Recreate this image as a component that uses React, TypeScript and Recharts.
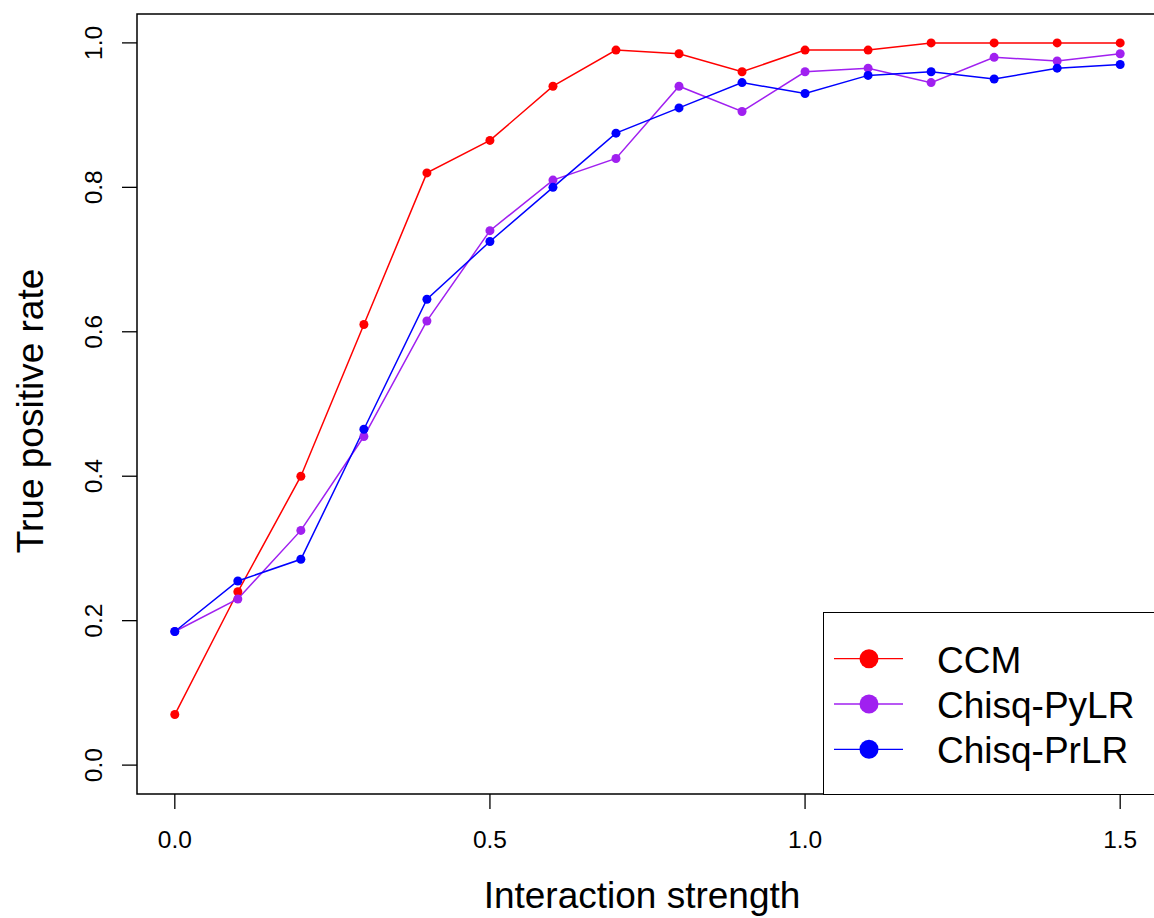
import { LineChart, Line, XAxis, YAxis, Legend, ReferenceArea, Label } from "recharts";

// interaction strength (x) and true positive rates per method
const strength = [0, 0.1, 0.2, 0.3, 0.4, 0.5, 0.6, 0.7, 0.8, 0.9, 1.0, 1.1, 1.2, 1.3, 1.4, 1.5];
const ccm = [0.07, 0.24, 0.4, 0.61, 0.82, 0.865, 0.94, 0.99, 0.985, 0.96, 0.99, 0.99, 1.0, 1.0, 1.0, 1.0];
const pylr = [0.185, 0.23, 0.325, 0.455, 0.615, 0.74, 0.81, 0.84, 0.94, 0.905, 0.96, 0.965, 0.945, 0.98, 0.975, 0.985];
const prlr = [0.185, 0.255, 0.285, 0.465, 0.645, 0.725, 0.8, 0.875, 0.91, 0.945, 0.93, 0.955, 0.96, 0.95, 0.965, 0.97];

const xTicks = [0, 0.5, 1.0, 1.5];
const yTicks = [0, 0.2, 0.4, 0.6, 0.8, 1.0];

const series = [
  { key: "ccm", name: "CCM", color: "#ff0000" },
  { key: "pylr", name: "Chisq-PyLR", color: "#a020f0" },
  { key: "prlr", name: "Chisq-PrLR", color: "#0000ff" },
];

const data = strength.map((x, i) => ({ x, ccm: ccm[i], pylr: pylr[i], prlr: prlr[i] }));

const FONT = '"Liberation Sans", Arial, Helvetica, sans-serif';

const XTick = ({ x, payload }: any) => (
  <text x={x} y={848} textAnchor="middle" fontSize={24.5} fontFamily={FONT} fill="#000">
    {Number(payload.value).toFixed(1)}
  </text>
);

const YTick = ({ y, payload }: any) => (
  <text
    x={102}
    y={y}
    transform={`rotate(-90, 102, ${y})`}
    textAnchor="middle"
    fontSize={24.5}
    fontFamily={FONT}
    fill="#000"
  >
    {Number(payload.value).toFixed(1)}
  </text>
);

// keep the legend in series order (recharts sorts its payload by name)
const renderLegend = () => (
  <svg width={400} height={182}>
    {series.map((it, i) => {
      const cy = 45.7 + i * 45.3;
      return (
        <g key={it.name}>
          <line x1={10} x2={79} y1={cy} y2={cy} stroke={it.color} strokeWidth={1.3} />
          <circle cx={45} cy={cy} r={9.5} fill={it.color} />
          <text x={113} y={cy + 14} fontSize={37} fontFamily={FONT} fill="#000">
            {it.name}
          </text>
        </g>
      );
    })}
  </svg>
);

export default function App() {
  return (
    <div
      style={{
        position: "fixed",
        left: 0,
        top: 0,
        width: 1154,
        height: 918,
        overflow: "hidden",
        background: "#fff",
        fontFamily: FONT,
      }}
    >
      <LineChart width={1172} height={918} data={data} margin={{ top: 14, right: 14, bottom: 0, left: 0 }}>
        <XAxis
          dataKey="x"
          type="number"
          domain={[-0.06, 1.56]}
          ticks={xTicks}
          allowDataOverflow
          axisLine={false}
          tickLine={{ stroke: "#000", strokeWidth: 1.3 }}
          tickSize={15}
          tick={<XTick />}
          height={124}
        >
          <Label
            content={() => (
              <text x={642} y={908} textAnchor="middle" fontSize={37} fontFamily={FONT} fill="#000">
                Interaction strength
              </text>
            )}
          />
        </XAxis>
        <YAxis
          type="number"
          domain={[-0.04, 1.04]}
          ticks={yTicks}
          allowDataOverflow
          axisLine={false}
          tickLine={{ stroke: "#000", strokeWidth: 1.3 }}
          tickSize={15}
          tick={<YTick />}
          width={137}
        >
          <Label
            content={() => (
              <text
                x={43}
                y={411}
                transform="rotate(-90, 43, 411)"
                textAnchor="middle"
                fontSize={37}
                fontFamily={FONT}
                fill="#000"
              >
                True positive rate
              </text>
            )}
          />
        </YAxis>
        <ReferenceArea
          x1={-0.06}
          x2={1.56}
          y1={-0.04}
          y2={1.04}
          fill="none"
          stroke="#000"
          strokeWidth={1.5}
          ifOverflow="visible"
        />
        {series.map((s) => (
          <Line
            key={s.key}
            type="linear"
            dataKey={s.key}
            name={s.name}
            stroke={s.color}
            strokeWidth={1.5}
            dot={{ r: 4.5, fill: s.color, stroke: "none" }}
            activeDot={false}
            isAnimationActive={false}
          />
        ))}
        <Legend
          layout="horizontal"
          verticalAlign="middle"
          align="center"
          content={renderLegend}
          wrapperStyle={{
            left: 823,
            top: 612,
            width: 400,
            height: 183,
            border: "1px solid #000",
            boxSizing: "border-box",
            background: "#fff",
          }}
        />
      </LineChart>
    </div>
  );
}
